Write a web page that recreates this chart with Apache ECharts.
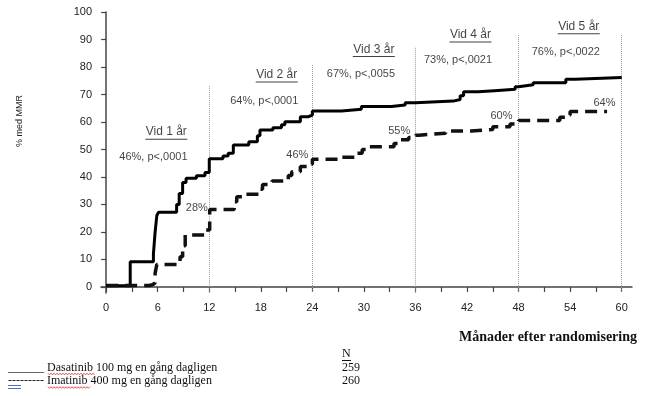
<!doctype html>
<meta charset="utf-8">
<style>
  html, body {
    margin: 0;
    height: 100%;
    background: #fff;
  }

  #chart {
    width: 645px;
    height: 396px;
  }
</style>
<script src="https://cdn.jsdelivr.net/npm/echarts@6/dist/echarts.min.js"></script>

<div id="chart"></div>

<script>
  // [månad, % med MMR] - trappsteg, värdet gäller från månaden och framåt
  const dasatinib = [
    [0, 0.4], [2.8, 9.2], [5.5, 12], [5.7, 20], [5.9, 26], [6.1, 27.2], [8.2, 30], [8.5, 34],
    [8.9, 38], [9.3, 39.5], [10.5, 40.4], [11.5, 41.6], [12, 46.6], [13.6, 47.6], [14.2, 48.6],
    [14.8, 51.6], [16.6, 52.8], [17.6, 55], [17.9, 57.1], [19.4, 57.9], [20.4, 59], [20.8, 60.1],
    [22.6, 61.9], [23.5, 62.5], [24, 64], [27.4, 64.6], [29.7, 65.6], [33.2, 66.2], [34.8, 67],
    [36, 67.6], [40.4, 68.2], [41.2, 69.5], [41.6, 71], [43.3, 71.4], [45.2, 71.9], [47.6, 72.8],
    [48, 73.5], [49.7, 74.3], [53.5, 75.5], [54.6, 76.2], [60, 76.2]
  ]
  const imatinib = [
    [0, 0.5], [5.0, 0.8], [5.4, 1.5], [5.7, 5], [5.9, 8.2], [8.6, 11], [8.9, 15], [9.2, 18.9],
    [11.6, 20.7], [12.05, 28.2], [14.9, 31], [15.2, 32.8], [15.8, 33.7], [17.9, 35.5], [18.2, 37.3],
    [19.3, 38.5], [21.2, 40.5], [21.6, 41.9], [22.6, 43.8], [23.6, 44.6], [24, 46.4], [27.3, 47.2],
    [29.2, 48.6], [29.8, 50], [30.2, 51], [33.5, 52.2], [34.3, 53.5], [35.2, 54.4], [36, 55.2],
    [36.4, 55.9], [39.5, 56.7], [42.5, 57.3], [45, 58.3], [47, 59.3], [48, 60.5], [52.8, 61.7],
    [53.6, 62.5], [54, 63.8], [58.3, 64]
  ]

  const xTicks = [0, 3, 6, 9, 12, 15, 18, 21, 24, 27, 30, 33, 36, 39, 42, 45, 48, 51, 54, 57, 60]
  const xLabels = [0, 6, 12, 18, 24, 30, 36, 42, 48, 54, 60]
  const yTicks = [0, 10, 20, 30, 40, 50, 60, 70, 80, 90, 100]

  const yearMonths = [12, 24, 36, 48, 60]
  const yearLineTops = [73, 80.7, 87, 91.6, 91.6]

  const yearTitles = ['Vid 1 år', 'Vid 2 år', 'Vid 3 år', 'Vid 4 år', 'Vid 5 år']
  const yearTitlePos = [[7, 56.3], [19.85, 77.1], [31.15, 86.4], [42.4, 91.6], [55, 94.6]]
  const dasaStats = ['46%, p<,0001', '64%, p<,0001', '67%, p<,0055', '73%, p<,0021', '76%, p<,0022']
  const dasaStatPos = [[5.5, 47.2], [18.4, 67.6], [29.65, 77.3], [40.95, 82.5], [53.5, 85.3]]
  const imaPct = ['28%', '46%', '55%', '60%', '64%']
  const imaPctPos = [[10.55, 28.6], [22.25, 48], [34.1, 56.8], [46, 62.3], [58, 66.8]]

  const X_MIN = -0.6, X_MAX = 61.2, Y_MIN = -2.2, Y_MAX = 100
  const axisColor = '#444'
  const sans = 'Arial, "Liberation Sans", sans-serif'
  const serif = '"Times New Roman", "Liberation Serif", serif'

  let chart = echarts.init(document.getElementById('chart'))

  function textSeries(texts, pos, fontSize) {
    return {
      type: 'scatter',
      silent: true,
      symbolSize: 0,
      data: pos.map((p, i) => ({ value: p, name: texts[i] })),
      label: {
        show: true,
        position: 'inside',
        formatter: '{b}',
        color: '#111',
        fontSize: fontSize,
        fontFamily: sans,
      },
      z: 5,
    }
  }

  // rödvågig stavningsmarkering
  function squiggle(x0, x1, y) {
    let pts = []
    for (let x = x0, k = 0; x <= x1; x += 1.5, k++) pts.push([x, y + (k % 2 ? 0.8 : -0.8)])
    return { type: 'polyline', shape: { points: pts }, style: { stroke: '#e02020', lineWidth: 0.8, fill: null } }
  }

  chart.setOption({
    animation: false,
    grid: {
      left: 101,
      top: 12,
      right: 13,
      bottom: 103,
    },
    xAxis: {
      type: 'value',
      min: X_MIN,
      max: X_MAX,
      splitLine: { show: false },
      axisLine: { lineStyle: { color: axisColor, width: 1.5 } },
      axisTick: { customValues: xTicks, length: 5, lineStyle: { color: axisColor, width: 1.2 } },
      axisLabel: { customValues: xLabels, color: '#222', fontSize: 11, fontFamily: sans, margin: 9 },
    },
    yAxis: {
      type: 'value',
      min: Y_MIN,
      max: Y_MAX,
      splitLine: { show: false },
      axisLine: { lineStyle: { color: axisColor, width: 1.5 } },
      axisTick: { customValues: yTicks, length: 5, lineStyle: { color: axisColor, width: 1.2 } },
      axisLabel: { customValues: yTicks, color: '#222', fontSize: 11, fontFamily: sans, margin: 9 },
    },
    series: [
      {
        name: 'Dasatinib 100 mg',
        type: 'line',
        step: 'end',
        data: dasatinib,
        showSymbol: false,
        lineStyle: { color: '#000', width: 3 },
        z: 3,
        markLine: {
          silent: true,
          symbol: ['none', 'none'],
          label: { show: false },
          lineStyle: { type: 'dotted', color: '#999', width: 1 },
          data: yearMonths.map((m, i) => [{ coord: [m, yearLineTops[i]] }, { coord: [m, Y_MIN] }]),
          z: 1,
        },
      },
      {
        name: 'Imatinib 400 mg',
        type: 'line',
        step: 'end',
        data: imatinib,
        showSymbol: false,
        lineStyle: { color: '#111', width: 3.5, type: [12, 7] },
        z: 3,
      },
      // understrykning under "Vid N år"
      {
        type: 'scatter',
        silent: true,
        symbol: 'rect',
        symbolSize: [42, 1],
        symbolOffset: [0, 7],
        itemStyle: { color: '#111' },
        data: yearTitlePos,
        z: 5,
      },
      textSeries(yearTitles, yearTitlePos, 12),
      textSeries(dasaStats, dasaStatPos, 11),
      textSeries(imaPct, imaPctPos, 11),
    ],
    graphic: [
      {
        type: 'text', x: 20, y: 121, rotation: Math.PI / 2,
        style: { text: '% med MMR', font: '9px ' + sans, fill: '#222', align: 'center', verticalAlign: 'middle' },
      },
      {
        type: 'text', x: 637, y: 337,
        style: { text: 'Månader efter randomisering', font: 'bold 14px ' + serif, fill: '#111', align: 'right', verticalAlign: 'middle' },
      },
      // förklaring
      {
        type: 'text', x: 342, y: 354,
        style: { text: 'N', font: '12px ' + serif, fill: '#111', verticalAlign: 'middle' },
      },
      { type: 'line', shape: { x1: 342, y1: 360.5, x2: 351, y2: 360.5 }, style: { stroke: '#111', lineWidth: 1 } },
      {
        type: 'text', x: 8, y: 367.5,
        style: { text: '______ Dasatinib 100 mg en gång dagligen', font: '12px ' + serif, fill: '#111', verticalAlign: 'middle' },
      },
      {
        type: 'text', x: 8, y: 381,
        style: { text: '--------- Imatinib 400 mg en gång dagligen', font: '12px ' + serif, fill: '#111', verticalAlign: 'middle' },
      },
      {
        type: 'text', x: 342, y: 367.5,
        style: { text: '259', font: '12px ' + serif, fill: '#111', verticalAlign: 'middle' },
      },
      {
        type: 'text', x: 342, y: 381,
        style: { text: '260', font: '12px ' + serif, fill: '#111', verticalAlign: 'middle' },
      },
      { type: 'line', shape: { x1: 8, y1: 385.5, x2: 21, y2: 385.5 }, style: { stroke: '#4472c4', lineWidth: 1 } },
      { type: 'line', shape: { x1: 8, y1: 388.5, x2: 21, y2: 388.5 }, style: { stroke: '#4472c4', lineWidth: 1 } },
      squiggle(48, 95, 374),
      squiggle(48, 90, 387.5),
    ],
  })
</script>
